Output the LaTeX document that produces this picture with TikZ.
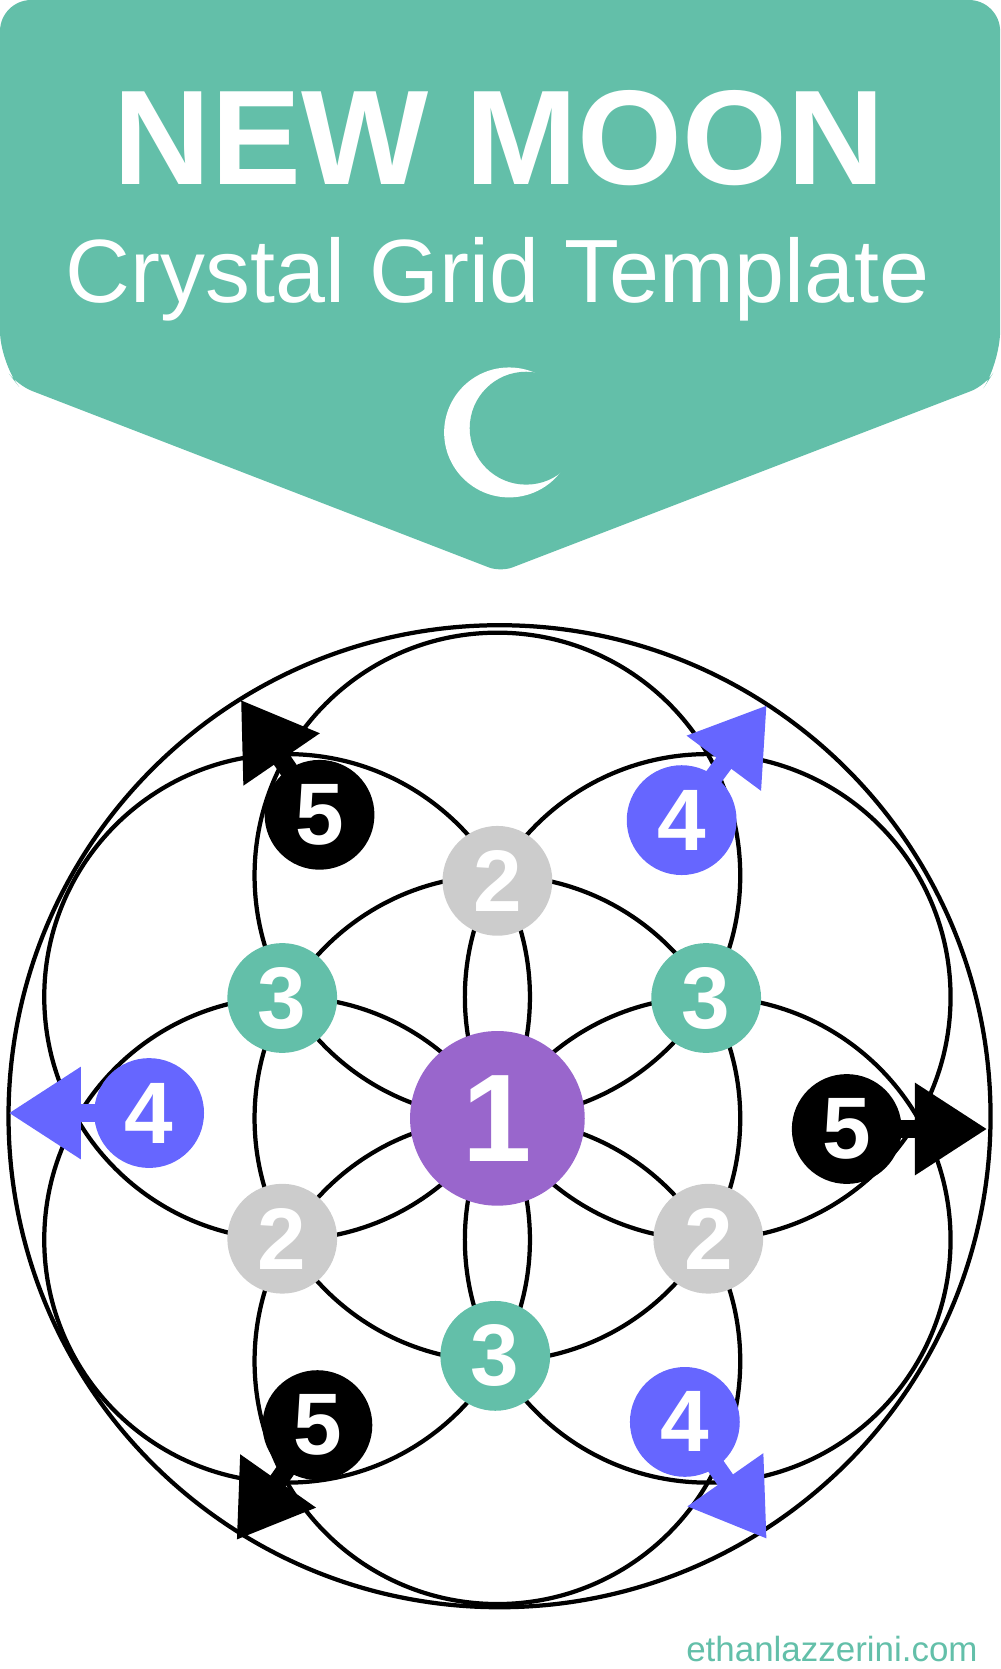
\documentclass[tikz,border=0pt]{standalone}
\usepackage{fontspec}
\setmainfont{Liberation Sans}
\usetikzlibrary{arrows.meta}
\definecolor{teal}{HTML}{63BFA9}
\definecolor{grayc}{HTML}{CCCCCC}
\definecolor{purp}{HTML}{9966CC}
\definecolor{blu}{HTML}{6666FF}
\tikzset{
 ring/.style={draw=black,line width=3.4pt},
 num/.style={circle,inner sep=0pt,minimum size=88pt,text=white,font=\fontsize{70}{70}\selectfont\bfseries},
 barrow/.style={line width=15pt,-{Triangle[width=70pt,length=58pt]}}
}
\begin{document}
\begin{tikzpicture}[x=0.03cm,y=-0.03cm]
\useasboundingbox (0,0) rectangle (939,1567);
% banner
\fill[teal,rounded corners=25pt] (0,0) -- (939,0) -- (939,340) [rounded corners=12pt] -- (925,362) [rounded corners=10pt] -- (470,537) [rounded corners=12pt] -- (17,362) [rounded corners=25pt] -- (0,340) -- cycle;
\node[text=white,font=\fontsize{108}{108}\selectfont\bfseries] (t1) at (469,130) {NEW MOON};
\node[text=white,font=\fontsize{72}{72}\selectfont] (t2) at (467,262) {Crystal Grid Template};
\fill[white] (478,406) circle (61);
\fill[teal] (494,402) circle (53);
% flower
\coordinate (c) at (467,1050);
\draw[ring] (469,1048) circle (461);
\draw[ring] (c) circle (228);
\foreach \a in {90,150,210,270,330,30}
  \draw[ring] (c) ++(\a:228 and -228) circle (228);
% nodes
\coordinate (t4a) at (720,662);
\coordinate (t5a) at (226,657);
\coordinate (l4) at (8,1045);
\coordinate (r5) at (927,1060);
\coordinate (b5) at (222,1446);
\coordinate (b4) at (720,1445);
\draw[barrow,blu] (640,770) -- (t4a);
\draw[barrow,black] (300,765) -- (t5a);
\draw[barrow,blu] (140,1045) -- (l4);
\draw[barrow,black] (795,1060) -- (r5);
\draw[barrow,black] (298,1338) -- (b5);
\draw[barrow,blu] (643,1335) -- (b4);
\node[num,fill=purp,minimum size=140pt,font=\fontsize{100}{100}\selectfont\bfseries] (n1) at (c) {1};
\node[num,fill=grayc] (n2a) at (467,827) {2};
\node[num,fill=grayc] (n2b) at (265,1163) {2};
\node[num,fill=grayc] (n2c) at (665,1163) {2};
\node[num,fill=teal] (n3a) at (265,937) {3};
\node[num,fill=teal] (n3b) at (663,937) {3};
\node[num,fill=teal] (n3c) at (465,1273) {3};
\node[num,fill=blu] (n4a) at (640,770) {4};
\node[num,fill=blu] (n4b) at (140,1045) {4};
\node[num,fill=blu] (n4c) at (643,1335) {4};
\node[num,fill=black] (n5a) at (300,765) {5};
\node[num,fill=black] (n5b) at (795,1060) {5};
\node[num,fill=black] (n5c) at (298,1338) {5};
\node[text=teal,font=\fontsize{28}{28}\selectfont,anchor=east] (ft) at (922,1548) {ethanlazzerini.com};
\end{tikzpicture}
\end{document}
